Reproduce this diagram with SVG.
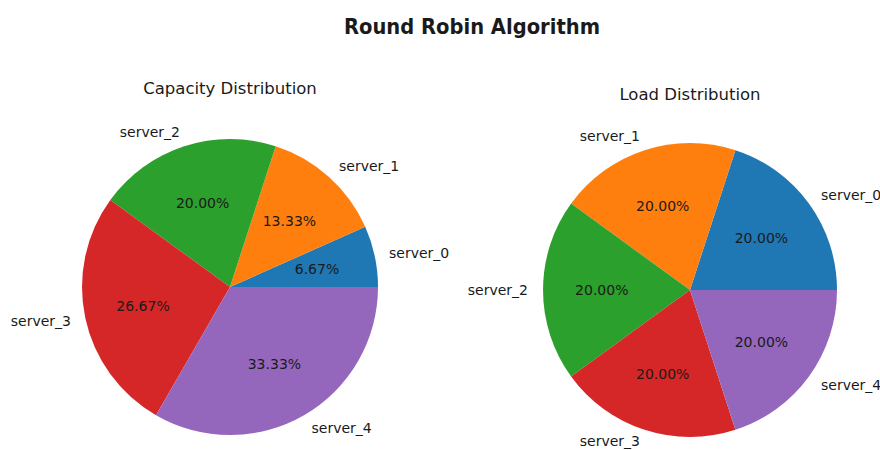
<svg xmlns="http://www.w3.org/2000/svg" width="880" height="450" viewBox="0 0 880 450">
<style>
.t{font-family:"DejaVu Sans","Liberation Sans",sans-serif;fill:#1a1a1a}
.lbl{font-size:14px}
.pct{font-size:14px;text-anchor:middle}
.sub{font-size:16.5px;text-anchor:middle}
.s0{fill:#1f77b4}.s1{fill:#ff7f0e}.s2{fill:#2ca02c}.s3{fill:#d62728}.s4{fill:#9467bd}
</style>
<rect width="880" height="450" fill="#ffffff"/>
<text class="t" x="472" y="34" font-size="21" font-weight="bold" text-anchor="middle" textLength="256" lengthAdjust="spacingAndGlyphs">Round Robin Algorithm</text>

<g id="capacity-chart">
<text class="t sub" x="230" y="94">Capacity Distribution</text>
<g id="cap-server_0">
<path class="s0" d="M230,287 L378,287 A148,148 0 0 0 365.2,226.8 Z"/>
<text class="t pct" x="317" y="274">6.67%</text>
<text class="t lbl" x="389" y="258">server_0</text>
</g>
<g id="cap-server_1">
<path class="s1" d="M230,287 L365.2,226.8 A148,148 0 0 0 275.7,146.2 Z"/>
<text class="t pct" x="289.4" y="226">13.33%</text>
<text class="t lbl" x="339" y="171">server_1</text>
</g>
<g id="cap-server_2">
<path class="s2" d="M230,287 L275.7,146.2 A148,148 0 0 0 110.3,200 Z"/>
<text class="t pct" x="202.6" y="207.5">20.00%</text>
<text class="t lbl" x="180" y="137" text-anchor="end">server_2</text>
</g>
<g id="cap-server_3">
<path class="s3" d="M230,287 L110.3,200 A148,148 0 0 0 156,415.2 Z"/>
<text class="t pct" x="143" y="310.5">26.67%</text>
<text class="t lbl" x="71" y="326" text-anchor="end">server_3</text>
</g>
<g id="cap-server_4">
<path class="s4" d="M230,287 L156,415.2 A148,148 0 0 0 378,287 Z"/>
<text class="t pct" x="274.4" y="369">33.33%</text>
<text class="t lbl" x="311.5" y="433">server_4</text>
</g>
</g>

<g id="load-chart">
<text class="t sub" x="690" y="100">Load Distribution</text>
<g id="load-server_0">
<path class="s0" d="M690,290 L837,290 A147,147 0 0 0 735.4,150.2 Z"/>
<text class="t pct" x="761.4" y="243">20.00%</text>
<text class="t lbl" x="821" y="200">server_0</text>
</g>
<g id="load-server_1">
<path class="s1" d="M690,290 L735.4,150.2 A147,147 0 0 0 571.1,203.6 Z"/>
<text class="t pct" x="662.7" y="211">20.00%</text>
<text class="t lbl" x="640" y="141" text-anchor="end">server_1</text>
</g>
<g id="load-server_2">
<path class="s2" d="M690,290 L571.1,203.6 A147,147 0 0 0 571.1,376.4 Z"/>
<text class="t pct" x="601.8" y="295">20.00%</text>
<text class="t lbl" x="528" y="295" text-anchor="end">server_2</text>
</g>
<g id="load-server_3">
<path class="s3" d="M690,290 L571.1,376.4 A147,147 0 0 0 735.4,429.8 Z"/>
<text class="t pct" x="662.7" y="379">20.00%</text>
<text class="t lbl" x="640" y="446" text-anchor="end">server_3</text>
</g>
<g id="load-server_4">
<path class="s4" d="M690,290 L735.4,429.8 A147,147 0 0 0 837,290 Z"/>
<text class="t pct" x="761.4" y="347">20.00%</text>
<text class="t lbl" x="821" y="390">server_4</text>
</g>
</g>
</svg>
